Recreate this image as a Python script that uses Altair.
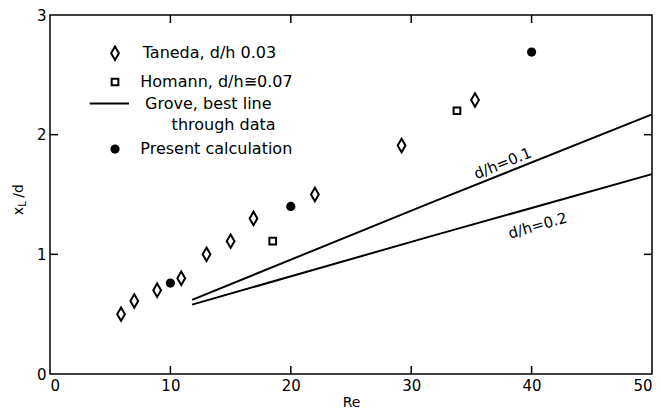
import altair as alt
import pandas as pd

# ---- data ----
taneda_re = [5.9, 7.0, 8.9, 10.9, 13.0, 15.0, 16.9, 22.0, 29.2, 35.3]
taneda_xl = [0.50, 0.61, 0.70, 0.80, 1.00, 1.11, 1.30, 1.50, 1.91, 2.29]
homann_re = [18.5, 33.8]
homann_xl = [1.11, 2.20]
present_re = [10.0, 20.0, 40.0]
present_xl = [0.76, 1.40, 2.69]
grove01_re = [11.8, 31.6, 50.0]
grove01_xl = [0.62, 1.43, 2.17]
grove02_re = [11.8, 31.6, 50.0]
grove02_xl = [0.58, 1.15, 1.67]
x_ticks = [0, 10, 20, 30, 40, 50]
y_ticks = [0, 1, 2, 3]
x_inner_ticks = [10, 20, 30, 40]
y_inner_ticks = [1, 2]

legend_labels = ["Taneda, d/h  0.03", "Homann, d/h\u22450.07", "Grove, best line",
                 "through data", "Present calculation"]
line_labels = ["d/h=0.1", "d/h=0.2"]

W, H = 602, 359
FONT = "DejaVu Sans"
X0, X1, Y0, Y1 = 0, 50, 0, 3

xs = alt.Scale(domain=[X0, X1], nice=False, zero=False)
ys = alt.Scale(domain=[Y0, Y1], nice=False, zero=False)

df_t = pd.DataFrame({"Re": taneda_re, "xl": taneda_xl})
df_h = pd.DataFrame({"Re": homann_re, "xl": homann_xl})
df_p = pd.DataFrame({"Re": present_re, "xl": present_xl})
df_g = pd.DataFrame({
    "Re": grove01_re + grove02_re,
    "xl": grove01_xl + grove02_xl,
    "g": ["0.1"] * len(grove01_re) + ["0.2"] * len(grove02_re),
})

X = alt.X("Re:Q", scale=xs, axis=alt.Axis(
    values=x_ticks, format="d", ticks=False, domain=False, grid=False, labelFont=FONT,
    labelFontSize=15, labelPadding=4, labelColor="black", title="Re",
    titleFont=FONT, titleFontSize=14, titleFontWeight="normal", titlePadding=2,
    titleColor="black"))
Y = alt.Y("xl:Q", scale=ys, axis=alt.Axis(
    values=y_ticks, format="d", ticks=False, domain=False, grid=False, labelFont=FONT,
    labelFontSize=15, labelPadding=4, labelColor="black", title=""))

diamond_path = "M0,-1L0.58,0L0,1L-0.58,0Z"

taneda = alt.Chart(df_t).mark_point(shape=diamond_path, filled=False, color="black",
                                    strokeWidth=2, size=180, opacity=1).encode(x=X, y=Y)
homann = alt.Chart(df_h).mark_point(shape="square", filled=False, color="black",
                                    strokeWidth=2, size=45, opacity=1).encode(x=X, y=Y)
present = alt.Chart(df_p).mark_point(shape="circle", filled=True, color="black",
                                     size=85, opacity=1).encode(x=X, y=Y)
grove = alt.Chart(df_g).mark_line(color="black", strokeWidth=2).encode(
    x=X, y=Y, detail="g:N")

# labels along the Grove lines
df_ll = pd.DataFrame({"Re": [37.6, 40.5], "xl": [1.76, 1.24], "t": line_labels,
                      "a": [338, 344]})
line_text = alt.Chart(df_ll).mark_text(font=FONT, fontSize=15, color="black",
                                       align="center", baseline="middle").encode(
    x=alt.X("Re:Q", scale=xs), y=alt.Y("xl:Q", scale=ys), text="t:N",
    angle=alt.Angle("a:Q", scale=None))

# legend drawn inside the plot
df_leg_t = pd.DataFrame({"Re": [5.4], "xl": [2.68]})
df_leg_h = pd.DataFrame({"Re": [5.4], "xl": [2.44]})
df_leg_p = pd.DataFrame({"Re": [5.4], "xl": [1.88]})
df_leg_l = pd.DataFrame({"Re": [3.3], "Re2": [6.56], "xl": [2.26]})
df_leg_txt = pd.DataFrame({
    "Re": [7.7, 7.5, 7.9, 10.1, 7.5],
    "xl": [2.68, 2.44, 2.26, 2.08, 1.88],
    "t": legend_labels,
})
leg_t = alt.Chart(df_leg_t).mark_point(shape=diamond_path, filled=False, color="black",
                                       strokeWidth=2, size=180, opacity=1).encode(
    x=alt.X("Re:Q", scale=xs), y=alt.Y("xl:Q", scale=ys))
leg_h = alt.Chart(df_leg_h).mark_point(shape="square", filled=False, color="black",
                                       strokeWidth=2, size=45, opacity=1).encode(
    x=alt.X("Re:Q", scale=xs), y=alt.Y("xl:Q", scale=ys))
leg_p = alt.Chart(df_leg_p).mark_point(shape="circle", filled=True, color="black",
                                       size=85, opacity=1).encode(
    x=alt.X("Re:Q", scale=xs), y=alt.Y("xl:Q", scale=ys))
leg_l = alt.Chart(df_leg_l).mark_rule(color="black", strokeWidth=2).encode(
    x=alt.X("Re:Q", scale=xs), x2="Re2:Q", y=alt.Y("xl:Q", scale=ys))
leg_txt = alt.Chart(df_leg_txt).mark_text(font=FONT, fontSize=16, color="black",
                                          align="left", baseline="middle").encode(
    x=alt.X("Re:Q", scale=xs), y=alt.Y("xl:Q", scale=ys), text="t:N")

# inward ticks on all four sides
df_xt = pd.DataFrame({"Re": x_inner_ticks})
df_yt = pd.DataFrame({"xl": y_inner_ticks})
xt_bottom = alt.Chart(df_xt).mark_rule(color="black", strokeWidth=1.5).encode(
    x=alt.X("Re:Q", scale=xs), y=alt.value(H), y2=alt.value(H - 8))
xt_top = alt.Chart(df_xt).mark_rule(color="black", strokeWidth=1.5).encode(
    x=alt.X("Re:Q", scale=xs), y=alt.value(0), y2=alt.value(8))
yt_left = alt.Chart(df_yt).mark_rule(color="black", strokeWidth=1.5).encode(
    y=alt.Y("xl:Q", scale=ys), x=alt.value(0), x2=alt.value(8))
yt_right = alt.Chart(df_yt).mark_rule(color="black", strokeWidth=1.5).encode(
    y=alt.Y("xl:Q", scale=ys), x=alt.value(W - 8), x2=alt.value(W))

# y-axis title with subscript L: x_L/d
df_yt1 = pd.DataFrame({"t": ["x"]})
df_yt2 = pd.DataFrame({"t": ["L"]})
df_yt3 = pd.DataFrame({"t": ["/d"]})
ytitle1 = alt.Chart(df_yt1).mark_text(font=FONT, fontSize=14, color="black", angle=270,
                                      align="center", baseline="middle").encode(
    x=alt.value(-31), y=alt.value(196), text="t:N")
ytitle2 = alt.Chart(df_yt2).mark_text(font=FONT, fontSize=10, color="black", angle=270,
                                      align="center", baseline="middle").encode(
    x=alt.value(-27), y=alt.value(189), text="t:N")
ytitle3 = alt.Chart(df_yt3).mark_text(font=FONT, fontSize=14, color="black", angle=270,
                                      align="center", baseline="middle").encode(
    x=alt.value(-31), y=alt.value(176), text="t:N")

chart = alt.layer(
    grove, taneda, homann, present, line_text,
    leg_t, leg_h, leg_p, leg_l, leg_txt,
    xt_bottom, xt_top, yt_left, yt_right,
    ytitle1, ytitle2, ytitle3,
).properties(
    width=W, height=H,
    autosize=alt.AutoSizeParams(type="none"),
    padding={"left": 42, "top": 7, "right": 1, "bottom": 34},
    background="white",
).configure_view(
    stroke="black", strokeWidth=1.5
)

chart.save("out.html", embed_options={"renderer": "svg", "actions": False})
